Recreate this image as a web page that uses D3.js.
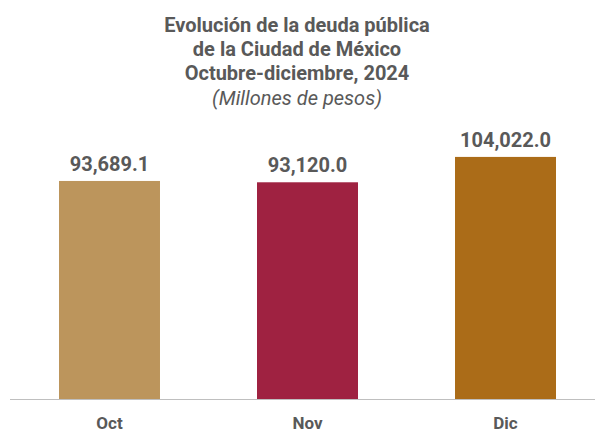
<!DOCTYPE html>
<html>
<head>
<meta charset="utf-8">
<script src="https://cdn.jsdelivr.net/npm/d3@7"></script>
<style>
  body { margin: 0; background: #fff; }
  text { font-family: Roboto, "Noto Sans", sans-serif; fill: #595959; }
</style>
</head>
<body>
<div id="chart"></div>
<script>
// chart data
var months = ["Oct", "Nov", "Dic"];
var debt = [93689.1, 93120.0, 104022.0];
var barColors = ["#BC955C", "#9F2241", "#AB6C18"];
var titleLines = [
  "Evolución de la deuda pública",
  "de la Ciudad de México",
  "Octubre-diciembre, 2024"
];
var subtitle = "(Millones de pesos)";

var svgWidth = 595;
var svgHeight = 431;

var svg = d3.select("#chart")
  .append("svg")
  .attr("width", svgWidth)
  .attr("height", svgHeight);

var data = months.map((m, i) => ({ month: m, value: debt[i], color: barColors[i] }));

// scales
var xScale = d3.scaleBand()
  .domain(months)
  .range([9.5, 605.5])
  .paddingInner(0.49)
  .paddingOuter(0.25);

var yScale = d3.scaleLinear()
  .domain([0, 110000])
  .range([399, 143]);

// titles
svg.append("g")
  .selectAll("text")
  .data(titleLines)
  .enter()
  .append("text")
  .attr("x", 297)
  .attr("y", (d, i) => 32 + i * 24)
  .attr("text-anchor", "middle")
  .attr("font-size", 20)
  .attr("font-weight", "bold")
  .text(d => d);

svg.append("text")
  .attr("x", 297)
  .attr("y", 105)
  .attr("text-anchor", "middle")
  .attr("font-size", 20)
  .attr("font-style", "italic")
  .text(subtitle);

// bars
svg.append("g")
  .selectAll("rect")
  .data(data)
  .enter()
  .append("rect")
  .attr("x", d => xScale(d.month))
  .attr("y", d => yScale(d.value))
  .attr("width", xScale.bandwidth())
  .attr("height", d => yScale(0) - yScale(d.value))
  .attr("fill", d => d.color);

// value labels
var fmt = d3.format(",.1f");
svg.append("g")
  .selectAll("text")
  .data(data)
  .enter()
  .append("text")
  .attr("x", d => xScale(d.month) + xScale.bandwidth() / 2)
  .attr("y", d => yScale(d.value) - 10)
  .attr("text-anchor", "middle")
  .attr("font-size", 20)
  .attr("font-weight", "bold")
  .text(d => fmt(d.value));

// x axis
var bottomAxis = d3.axisBottom(xScale).tickSize(0).tickPadding(18);
var axisGroup = svg.append("g")
  .attr("transform", `translate(0, ${yScale(0)})`)
  .call(bottomAxis);

axisGroup.select(".domain").remove();
axisGroup.selectAll("text")
  .attr("font-size", 17)
  .attr("font-weight", "bold")
  .attr("font-family", "Roboto, sans-serif")
  .attr("fill", "#595959");

svg.append("line")
  .attr("x1", 10)
  .attr("x2", 595)
  .attr("y1", yScale(0) + 0.5)
  .attr("y2", yScale(0) + 0.5)
  .attr("stroke", "#BFBFBF")
  .attr("stroke-width", 1);
</script>
</body>
</html>
